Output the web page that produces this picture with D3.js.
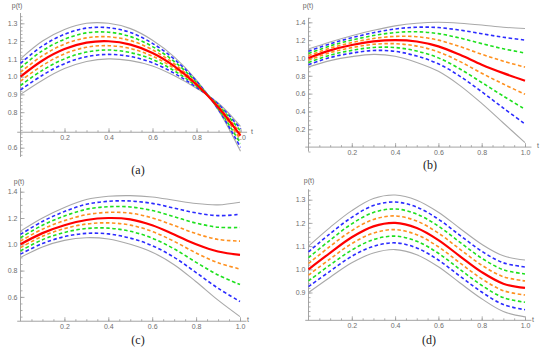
<!DOCTYPE html>
<html>
<head>
<meta charset="utf-8">
<script src="https://cdn.jsdelivr.net/npm/d3@7/dist/d3.min.js"></script>
<style>
body { margin: 0; background: #fff; }
svg { display: block; }
.tick text { font-family: "Liberation Sans", Arial, sans-serif; font-size: 7px; fill: #6e6e6e; }
</style>
</head>
<body>
<script>
var w = 550, h = 352;

// sample times (t)
var tValues = [0, 0.1, 0.2, 0.3, 0.4, 0.5, 0.6, 0.7, 0.8, 0.9, 1.0];

// panel (a)
var aGrayHi   = [1.100, 1.200, 1.265, 1.300, 1.300, 1.270, 1.205, 1.110, 0.980, 0.810, 0.580];
var aBlueHi   = [1.075, 1.173, 1.238, 1.273, 1.275, 1.248, 1.187, 1.097, 0.974, 0.814, 0.602];
var aGreenHi  = [1.050, 1.146, 1.210, 1.246, 1.250, 1.225, 1.169, 1.084, 0.968, 0.818, 0.624];
var aOrangeHi = [1.025, 1.118, 1.183, 1.218, 1.224, 1.203, 1.151, 1.071, 0.962, 0.822, 0.646];
var aRed      = [1.000, 1.091, 1.155, 1.191, 1.199, 1.180, 1.133, 1.058, 0.956, 0.826, 0.668];
var aOrangeLo = [0.975, 1.063, 1.128, 1.165, 1.174, 1.158, 1.115, 1.045, 0.951, 0.832, 0.681];
var aGreenLo  = [0.950, 1.036, 1.100, 1.138, 1.150, 1.135, 1.097, 1.032, 0.946, 0.838, 0.694];
var aBlueLo   = [0.925, 1.008, 1.073, 1.112, 1.125, 1.113, 1.078, 1.018, 0.940, 0.844, 0.707];
var aGrayLo   = [0.900, 0.980, 1.045, 1.085, 1.100, 1.090, 1.060, 1.005, 0.935, 0.850, 0.720];

// panel (b)
var bGrayHi   = [1.100, 1.180, 1.250, 1.310, 1.360, 1.390, 1.400, 1.390, 1.370, 1.345, 1.330];
var bBlueHi   = [1.075, 1.159, 1.227, 1.283, 1.325, 1.345, 1.341, 1.312, 1.272, 1.232, 1.201];
var bGreenHi  = [1.050, 1.135, 1.201, 1.251, 1.285, 1.294, 1.273, 1.223, 1.161, 1.103, 1.055];
var bOrangeHi = [1.025, 1.110, 1.172, 1.218, 1.242, 1.238, 1.200, 1.127, 1.041, 0.964, 0.897];
var bRed      = [1.000, 1.085, 1.145, 1.185, 1.200, 1.185, 1.130, 1.035, 0.925, 0.830, 0.745];
var bOrangeLo = [0.975, 1.060, 1.116, 1.153, 1.160, 1.133, 1.068, 0.959, 0.829, 0.707, 0.592];
var bGreenLo  = [0.950, 1.032, 1.085, 1.118, 1.117, 1.077, 1.001, 0.876, 0.725, 0.572, 0.425];
var bBlueLo   = [0.925, 1.005, 1.054, 1.084, 1.074, 1.021, 0.934, 0.794, 0.621, 0.438, 0.259];
var bGrayLo   = [0.900, 0.970, 1.015, 1.040, 1.020, 0.950, 0.850, 0.690, 0.490, 0.270, 0.050];

// panel (c)
var cGrayHi   = [1.100, 1.200, 1.280, 1.340, 1.365, 1.370, 1.360, 1.335, 1.310, 1.300, 1.320];
var cBlueHi   = [1.075, 1.174, 1.249, 1.304, 1.327, 1.329, 1.311, 1.275, 1.239, 1.218, 1.228];
var cGreenHi  = [1.050, 1.145, 1.215, 1.266, 1.286, 1.284, 1.257, 1.210, 1.161, 1.130, 1.128];
var cOrangeHi = [1.025, 1.115, 1.180, 1.225, 1.243, 1.237, 1.201, 1.143, 1.081, 1.037, 1.024];
var cRed      = [1.000, 1.085, 1.145, 1.185, 1.200, 1.190, 1.145, 1.075, 1.000, 0.945, 0.920];
var cOrangeLo = [0.975, 1.061, 1.119, 1.154, 1.163, 1.146, 1.098, 1.022, 0.934, 0.860, 0.812];
var cGreenLo  = [0.950, 1.035, 1.090, 1.120, 1.123, 1.099, 1.047, 0.965, 0.863, 0.767, 0.694];
var cBlueLo   = [0.925, 1.006, 1.058, 1.083, 1.079, 1.047, 0.990, 0.901, 0.785, 0.666, 0.565];
var cGrayLo   = [0.900, 0.980, 1.030, 1.050, 1.040, 1.000, 0.940, 0.845, 0.715, 0.575, 0.450];

// panel (d)
var dGrayHi   = [1.100, 1.181, 1.253, 1.305, 1.320, 1.298, 1.246, 1.176, 1.108, 1.058, 1.040];
var dBlueHi   = [1.075, 1.154, 1.224, 1.275, 1.290, 1.268, 1.216, 1.146, 1.078, 1.028, 1.010];
var dGreenHi  = [1.050, 1.126, 1.196, 1.245, 1.260, 1.238, 1.186, 1.116, 1.048, 0.998, 0.980];
var dOrangeHi = [1.025, 1.099, 1.167, 1.215, 1.230, 1.208, 1.156, 1.086, 1.018, 0.968, 0.950];
var dRed      = [1.000, 1.071, 1.138, 1.185, 1.200, 1.178, 1.126, 1.056, 0.988, 0.938, 0.920];
var dOrangeLo = [0.975, 1.045, 1.111, 1.156, 1.171, 1.149, 1.097, 1.027, 0.959, 0.908, 0.889];
var dGreenLo  = [0.950, 1.019, 1.083, 1.128, 1.143, 1.121, 1.069, 0.999, 0.931, 0.878, 0.858];
var dBlueLo   = [0.925, 0.992, 1.056, 1.099, 1.114, 1.092, 1.040, 0.970, 0.902, 0.848, 0.826];
var dGrayLo   = [0.900, 0.966, 1.028, 1.070, 1.085, 1.063, 1.011, 0.941, 0.873, 0.818, 0.795];

// tick labels
var xTickLabels = [0.2, 0.4, 0.6, 0.8, 1.0];
var aYTickLabels = [0.6, 0.8, 0.9, 1.0, 1.1, 1.2, 1.3];
var bYTickLabels = [0.2, 0.4, 0.6, 0.8, 1.0, 1.2, 1.4];
var cYTickLabels = [0.6, 0.8, 1.0, 1.2, 1.4];
var dYTickLabels = [0.9, 1.0, 1.1, 1.2, 1.3];
var panelLabels = ["(a)", "(b)", "(c)", "(d)"];

// line styles, drawn in this order
var styles = [
  {color: "#a9a9a9", width: 1.1, dash: null},
  {color: "#a9a9a9", width: 1.1, dash: null},
  {color: "#2b2bff", width: 1.6, dash: "3.5,2.5"},
  {color: "#2b2bff", width: 1.6, dash: "3.5,2.5"},
  {color: "#1ee01e", width: 1.6, dash: "3.5,2.5"},
  {color: "#1ee01e", width: 1.6, dash: "3.5,2.5"},
  {color: "#ff901e", width: 1.6, dash: "3.5,2.5"},
  {color: "#ff901e", width: 1.6, dash: "3.5,2.5"},
  {color: "#ff0000", width: 2.2, dash: null}
];

var panels = [
  {series: [aGrayHi, aGrayLo, aBlueHi, aBlueLo, aGreenHi, aGreenLo, aOrangeHi, aOrangeLo, aRed],
   yTicks: aYTickLabels, minor: 0.02, x0: 20.5, x1: 240.5, v1: 1.3, y1: 23.3, v2: 0.6, y2: 147.7,
   yLo: 0.548, yHi: 1.358, cross: 0.687, pLabel: [17, 8], tLabel: [252, 134], label: [138, 174]},
  {series: [bGrayHi, bGrayLo, bBlueHi, bBlueLo, bGreenHi, bGreenLo, bOrangeHi, bOrangeLo, bRed],
   yTicks: bYTickLabels, minor: 0.05, x0: 308.5, x1: 525, v1: 1.4, y1: 22.3, v2: 0.0, y2: 147.1,
   yLo: -0.05, yHi: 1.45, cross: 0, pLabel: [308, 8], tLabel: [538, 148], label: [430, 169]},
  {series: [cGrayHi, cGrayLo, cBlueHi, cBlueLo, cGreenHi, cGreenLo, cOrangeHi, cOrangeLo, cRed],
   yTicks: cYTickLabels, minor: 0.05, x0: 20.5, x1: 240, v1: 1.4, y1: 191.7, v2: 0.6, y2: 296.9,
   yLo: 0.415, yHi: 1.43, cross: 0.415, pLabel: [19, 184], tLabel: [248, 322], label: [138, 344]},
  {series: [dGrayHi, dGrayLo, dBlueHi, dBlueLo, dGreenHi, dGreenLo, dOrangeHi, dOrangeLo, dRed],
   yTicks: dYTickLabels, minor: 0.02, x0: 308.5, x1: 525, v1: 1.3, y1: 199.7, v2: 0.9, y2: 292.5,
   yLo: 0.78, yHi: 1.345, cross: 0.78, pLabel: [309, 183], tLabel: [533, 322], label: [429, 344]}
];

var svg = d3.select("body").append("svg").attr("width", w).attr("height", h);

panels.forEach(function(p, pi) {
  var x = d3.scaleLinear().domain([0, 1]).range([p.x0, p.x1]);
  var y = d3.scaleLinear().domain([p.v1, p.v2]).range([p.y1, p.y2]);
  var g = svg.append("g");
  var axisColor = "#9a9a9a";

  // y axis
  var minorY = d3.range(Math.ceil(p.yLo / p.minor - 1e-9), Math.floor(p.yHi / p.minor + 1e-9) + 1)
    .map(function(k) { return +(k * p.minor).toFixed(3); })
    .filter(function(v) { return Math.abs(v - p.cross) > 1e-6; });
  var yMinor = g.append("g").attr("transform", "translate(" + x(0) + ",0)")
    .call(d3.axisLeft(y).tickValues(minorY).tickSizeInner(-2).tickSizeOuter(0).tickFormat(""));
  var yMajor = g.append("g").attr("transform", "translate(" + x(0) + ",0)")
    .call(d3.axisLeft(y).tickValues(p.yTicks).tickSizeInner(-4).tickSizeOuter(0).tickPadding(3)
      .tickFormat(d3.format(".1f")));

  // x axis
  var minorX = d3.range(1, 21).map(function(k) { return +(k * 0.05).toFixed(2); });
  var xMinor = g.append("g").attr("transform", "translate(0," + y(p.cross) + ")")
    .call(d3.axisBottom(x).tickValues(minorX).tickSizeInner(-2).tickSizeOuter(0).tickFormat(""));
  var xMajor = g.append("g").attr("transform", "translate(0," + y(p.cross) + ")")
    .call(d3.axisBottom(x).tickValues(xTickLabels).tickSizeInner(-4).tickSizeOuter(0).tickPadding(3)
      .tickFormat(d3.format(".1f")));

  [yMinor, yMajor, xMinor, xMajor].forEach(function(a) {
    a.select(".domain").remove();
    a.selectAll("line").attr("stroke", axisColor).attr("stroke-width", 0.8);
  });

  g.append("line")
    .attr("x1", x(0)).attr("x2", x(0))
    .attr("y1", y(p.yLo)).attr("y2", y(p.yHi))
    .attr("stroke", axisColor).attr("stroke-width", 0.9);
  g.append("line")
    .attr("x1", x(-0.015)).attr("x2", x(1.03))
    .attr("y1", y(p.cross)).attr("y2", y(p.cross))
    .attr("stroke", axisColor).attr("stroke-width", 0.9);

  // curves
  var line = d3.line()
    .x(function(d, i) { return x(tValues[i]); })
    .y(function(d) { return y(d); })
    .curve(d3.curveCatmullRom.alpha(0.5));

  g.selectAll("path.curve")
    .data(p.series)
    .enter()
    .append("path")
    .attr("class", "curve")
    .attr("d", line)
    .attr("fill", "none")
    .attr("stroke", function(d, i) { return styles[i].color; })
    .attr("stroke-width", function(d, i) { return styles[i].width; })
    .attr("stroke-dasharray", function(d, i) { return styles[i].dash; });

  // labels
  g.append("text").text("p(t)")
    .attr("x", p.pLabel[0]).attr("y", p.pLabel[1])
    .attr("text-anchor", "middle")
    .attr("font-family", "Liberation Sans, Arial, sans-serif")
    .attr("font-size", "7px").attr("fill", "#666");
  g.append("text").text("t")
    .attr("x", p.tLabel[0]).attr("y", p.tLabel[1])
    .attr("text-anchor", "middle")
    .attr("font-family", "Liberation Sans, Arial, sans-serif")
    .attr("font-size", "7px").attr("fill", "#666");
  g.append("text").text(panelLabels[pi])
    .attr("x", p.label[0]).attr("y", p.label[1])
    .attr("text-anchor", "middle")
    .attr("font-family", "Liberation Serif, Times New Roman, serif")
    .attr("font-size", "12px").attr("fill", "#222");
});
</script>
</body>
</html>
